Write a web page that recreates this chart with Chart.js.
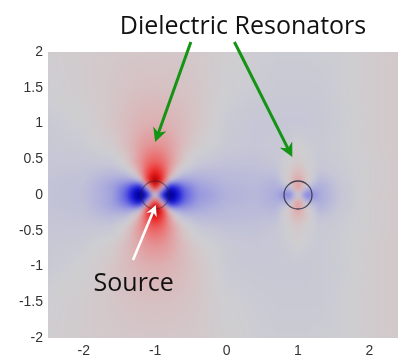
<!DOCTYPE html>
<html>
<head>
<meta charset="utf-8">
<script src="https://cdn.jsdelivr.net/npm/chart.js@4/dist/chart.umd.min.js"></script>
<style>
  html, body { margin: 0; padding: 0; background: #fff; }
  #wrap { width: 398px; height: 358px; }
</style>
</head>
<body>
<div id="wrap"><canvas id="chart" width="398" height="358"></canvas></div>
<script>
'use strict';

/* ── Field samples, rows top → bottom ── */
const gridX = [-2.5, -2, -1.6, -1.4, -1.28, -1.2, -1.1, -1, -0.9, -0.8, -0.72, -0.6, -0.4, 0, 0.4, 0.7, 0.88, 1, 1.12, 1.3, 1.6, 2, 2.5];
const gridY = [2, 1.5, 1, 0.7, 0.45, 0.3, 0.2, 0.1, 0, -0.1, -0.2, -0.3, -0.45, -0.7, -1, -1.5, -2];
const field = [
  [0.01, 0.027, 0.042, 0.046, 0.048, 0.049, 0.05, 0.05, 0.05, 0.049, 0.048, 0.046, 0.042, 0.01, -0.01, -0.02, -0.02, -0.02, -0.02, -0.015, -0.01, 0.02, 0.05],
  [0, 0.025, 0.054, 0.068, 0.074, 0.077, 0.079, 0.08, 0.079, 0.077, 0.074, 0.068, 0.054, 0, -0.02, -0.03, -0.03, -0.03, -0.03, -0.03, -0.01, 0.02, 0.05],
  [-0.03, 0, 0.06, 0.1, 0.124, 0.138, 0.147, 0.15, 0.147, 0.138, 0.124, 0.1, 0.06, -0.03, -0.05, -0.05, -0.05, -0.05, -0.05, -0.04, -0.02, 0.02, 0.05],
  [-0.04, -0.024, 0.026, 0.1, 0.165, 0.21, 0.25, 0.26, 0.25, 0.21, 0.165, 0.1, 0.026, -0.034, -0.05, -0.04, -0.02, 0.01, -0.02, -0.03, -0.015, 0.02, 0.05],
  [-0.05, -0.05, -0.045, 0.037, 0.17, 0.27, 0.4, 0.45, 0.4, 0.27, 0.17, 0.037, -0.045, -0.07, -0.07, -0.05, 0.01, 0.05, 0.01, -0.04, -0.02, 0.01, 0.05],
  [-0.055, -0.065, -0.11, -0.085, 0.04, 0.23, 0.54, 0.72, 0.54, 0.23, 0.04, -0.085, -0.11, -0.1, -0.09, -0.08, 0.05, 0.13, 0.05, -0.07, -0.03, 0.01, 0.05],
  [-0.06, -0.07, -0.17, -0.21, -0.19, -0.02, 0.62, 1.0, 0.62, -0.02, -0.19, -0.21, -0.17, -0.11, -0.1, -0.12, 0.05, 0.22, 0.05, -0.12, -0.04, 0.01, 0.05],
  [-0.06, -0.08, -0.2, -0.37, -0.6, -0.75, 0, 0.7, 0, -0.75, -0.6, -0.37, -0.21, -0.13, -0.11, -0.15, -0.1, 0.3, -0.1, -0.16, -0.05, 0.01, 0.05],
  [-0.06, -0.08, -0.19, -0.42, -0.8, -1.0, -0.68, 0, -0.68, -1.0, -0.8, -0.42, -0.24, -0.14, -0.11, -0.17, -0.36, -0.03, -0.36, -0.17, -0.05, 0.02, 0.05],
  [-0.06, -0.08, -0.2, -0.37, -0.6, -0.75, 0, 0.7, 0, -0.75, -0.6, -0.37, -0.21, -0.13, -0.11, -0.15, -0.1, 0.3, -0.1, -0.16, -0.05, 0.01, 0.05],
  [-0.06, -0.07, -0.17, -0.21, -0.19, -0.02, 0.62, 1.0, 0.62, -0.02, -0.19, -0.21, -0.17, -0.11, -0.1, -0.12, 0.05, 0.22, 0.05, -0.12, -0.04, 0.01, 0.05],
  [-0.055, -0.065, -0.11, -0.085, 0.04, 0.23, 0.54, 0.72, 0.54, 0.23, 0.04, -0.085, -0.11, -0.1, -0.09, -0.08, 0.05, 0.13, 0.05, -0.07, -0.03, 0.01, 0.05],
  [-0.05, -0.05, -0.045, 0.037, 0.17, 0.27, 0.4, 0.45, 0.4, 0.27, 0.17, 0.037, -0.045, -0.07, -0.07, -0.05, 0.01, 0.05, 0.01, -0.04, -0.02, 0.01, 0.05],
  [-0.04, -0.024, 0.026, 0.1, 0.165, 0.21, 0.25, 0.26, 0.25, 0.21, 0.165, 0.1, 0.026, -0.034, -0.05, -0.04, -0.02, 0.01, -0.02, -0.03, -0.015, 0.02, 0.05],
  [-0.03, 0, 0.06, 0.1, 0.124, 0.138, 0.147, 0.15, 0.147, 0.138, 0.124, 0.1, 0.06, -0.03, -0.04, -0.04, -0.04, -0.04, -0.04, -0.03, -0.02, 0.02, 0.05],
  [0, 0.025, 0.054, 0.068, 0.074, 0.077, 0.079, 0.08, 0.079, 0.077, 0.074, 0.068, 0.054, 0, -0.02, -0.03, -0.03, -0.03, -0.03, -0.03, -0.01, 0.02, 0.05],
  [0.01, 0.027, 0.042, 0.046, 0.048, 0.049, 0.05, 0.05, 0.05, 0.049, 0.048, 0.046, 0.042, 0.01, -0.01, -0.02, -0.02, -0.02, -0.02, -0.015, -0.01, 0.02, 0.05],
];

/* ── Resonators, ticks, annotations ── */
const resonatorX = [-1, 1];
const resonatorY = [0, 0];
const xTicks = [-2, -1, 0, 1, 2];
const yTicks = [-2, -1.5, -1, -0.5, 0, 0.5, 1, 1.5, 2];
const arrows = [
  { from: [-0.5, 2.14], to: [-1.0, 0.74], color: '#149414' },
  { from: [0.11, 2.14], to: [0.92, 0.53], color: '#149414' },
  { from: [-1.31, -0.91], to: [-0.99, -0.14], color: '#ffffff' },
];
const labels = [
  { text: 'Dielectric Resonators', at: [0.23, 2.35] },
  { text: 'Source', at: [-1.3, -1.245] },
];

/* ── Colour map: blue ← gray → red ── */
const cmap = [
  [-1.0, 0, 0, 95], [-0.85, 0, 0, 160], [-0.65, 15, 15, 215], [-0.45, 75, 75, 225],
  [-0.3, 130, 130, 225], [-0.15, 175, 175, 220], [-0.05, 198, 198, 214], [0, 206, 206, 209],
  [0.05, 212, 199, 201], [0.15, 221, 176, 178], [0.3, 231, 135, 137], [0.45, 238, 88, 88],
  [0.65, 235, 30, 30], [0.85, 190, 0, 0], [1.0, 120, 0, 0],
];

function colorFor(v) {
  if (v <= cmap[0][0]) return cmap[0].slice(1);
  for (let i = 0; i < cmap.length - 1; i++) {
    const a = cmap[i], b = cmap[i + 1];
    if (v <= b[0]) {
      const t = (v - a[0]) / (b[0] - a[0]);
      return [a[1] + (b[1] - a[1]) * t, a[2] + (b[2] - a[2]) * t, a[3] + (b[3] - a[3]) * t];
    }
  }
  return cmap[cmap.length - 1].slice(1);
}

function locate(arr, v) {
  if (v <= arr[0]) return [0, 0];
  for (let i = 0; i < arr.length - 1; i++) {
    if (v <= arr[i + 1]) return [i, (v - arr[i]) / (arr[i + 1] - arr[i])];
  }
  return [arr.length - 2, 1];
}

const gridYUp = gridY.map(v => -v);   // ascending, for lookup

function sample(x, y) {
  const [i, tx] = locate(gridX, x);
  const [j, ty] = locate(gridYUp, -y);
  const a = field[j][i], b = field[j][i + 1];
  const c = field[j + 1][i], d = field[j + 1][i + 1];
  return (a * (1 - tx) + b * tx) * (1 - ty) + (c * (1 - tx) + d * tx) * ty;
}

/* ── Plugin: field image under the datasets ── */
const fieldPlugin = {
  id: 'field',
  beforeDatasetsDraw(chart) {
    const { ctx, chartArea: a, scales: { x, y } } = chart;
    const w = Math.round(a.right - a.left), h = Math.round(a.bottom - a.top);
    const off = document.createElement('canvas');
    off.width = w; off.height = h;
    const octx = off.getContext('2d');
    const img = octx.createImageData(w, h);
    for (let py = 0; py < h; py++) {
      const vy = y.getValueForPixel(a.top + py + 0.5);
      for (let px = 0; px < w; px++) {
        const vx = x.getValueForPixel(a.left + px + 0.5);
        const c = colorFor(sample(vx, vy));
        const k = (py * w + px) * 4;
        img.data[k] = c[0]; img.data[k + 1] = c[1]; img.data[k + 2] = c[2]; img.data[k + 3] = 255;
      }
    }
    octx.putImageData(img, 0, 0);
    ctx.save();
    ctx.beginPath();
    ctx.rect(a.left, a.top, w, h);
    ctx.clip();
    ctx.drawImage(off, a.left, a.top);
    ctx.filter = 'blur(2.5px)';
    ctx.drawImage(off, a.left, a.top);
    ctx.restore();
  }
};

/* ── Plugin: arrows + captions ── */
function drawArrow(ctx, x0, y0, x1, y1, color, width, head) {
  const ang = Math.atan2(y1 - y0, x1 - x0);
  const cos = Math.cos(ang), sin = Math.sin(ang);
  const bx = x1 - head * cos, by = y1 - head * sin;
  ctx.strokeStyle = color;
  ctx.lineWidth = width;
  ctx.beginPath();
  ctx.moveTo(x0, y0);
  ctx.lineTo(x1 - head * 0.6 * cos, y1 - head * 0.6 * sin);
  ctx.stroke();
  const half = head * 0.5;
  ctx.fillStyle = color;
  ctx.beginPath();
  ctx.moveTo(x1, y1);
  ctx.lineTo(bx - half * sin, by + half * cos);
  ctx.lineTo(x1 - head * 0.7 * cos, y1 - head * 0.7 * sin);
  ctx.lineTo(bx + half * sin, by - half * cos);
  ctx.closePath();
  ctx.fill();
}

const notesPlugin = {
  id: 'notes',
  afterDraw(chart) {
    const { ctx, scales: { x, y } } = chart;
    ctx.save();
    arrows.forEach(a => {
      const white = a.color === '#ffffff';
      drawArrow(ctx,
        x.getPixelForValue(a.from[0]), y.getPixelForValue(a.from[1]),
        x.getPixelForValue(a.to[0]), y.getPixelForValue(a.to[1]),
        a.color, white ? 2.6 : 3, white ? 11 : 14);
    });
    ctx.fillStyle = '#111';
    ctx.font = '25px "Open Sans", sans-serif';
    ctx.textAlign = 'center';
    ctx.textBaseline = 'middle';
    labels.forEach(l => ctx.fillText(l.text, x.getPixelForValue(l.at[0]), y.getPixelForValue(l.at[1])));
    ctx.restore();
  }
};

const tickFont = { family: '"Liberation Sans", Arial, sans-serif', size: 14 };

new Chart(document.getElementById('chart'), {
  type: 'scatter',
  data: {
    datasets: [{
      data: resonatorX.map((v, i) => ({ x: v, y: resonatorY[i] })),
      pointRadius: 14,
      pointHoverRadius: 14,
      pointBorderWidth: 1.3,
      backgroundColor: 'rgba(0,0,0,0)',
      borderColor: ['rgba(50,30,50,0.45)', 'rgba(55,55,75,0.9)'],
    }],
  },
  options: {
    responsive: false,
    animation: false,
    events: [],
    layout: { autoPadding: false, padding: { top: 52, left: 0, right: 0, bottom: 0 } },
    plugins: { legend: { display: false }, tooltip: { enabled: false } },
    scales: {
      x: {
        type: 'linear', min: -2.5, max: 2.4,
        afterBuildTicks: s => { s.ticks = xTicks.map(v => ({ value: v })); },
        afterFit: s => { s.height = 20; },
        grid: { display: false, drawTicks: false },
        border: { display: false },
        ticks: { font: tickFont, color: '#333', padding: 5, maxRotation: 0, callback: v => String(v) },
      },
      y: {
        type: 'linear', min: -2, max: 2,
        afterBuildTicks: s => { s.ticks = yTicks.map(v => ({ value: v })); },
        afterFit: s => { s.width = 48; },
        grid: { display: false, drawTicks: false },
        border: { display: false },
        ticks: { font: tickFont, color: '#333', padding: 5, callback: v => String(v) },
      },
    },
  },
  plugins: [fieldPlugin, notesPlugin],
});
</script>
</body>
</html>
